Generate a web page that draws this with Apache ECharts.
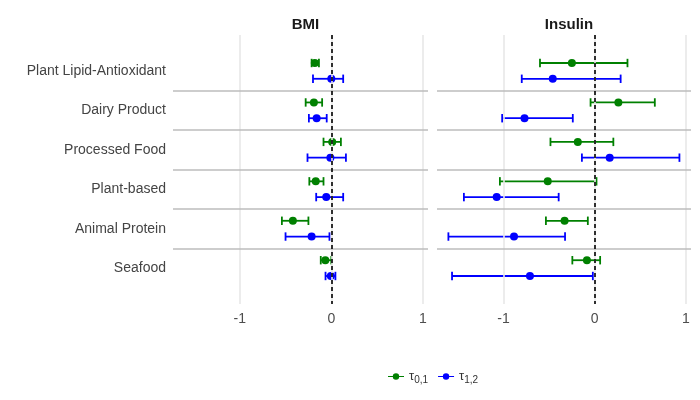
<!DOCTYPE html>
<html>
<head>
<meta charset="utf-8">
<script src="https://cdn.jsdelivr.net/npm/echarts@6/dist/echarts.min.js"></script>
<style>
html,body{margin:0;padding:0;background:#fff;}
#chart{width:700px;height:400px;}
</style>
</head>
<body>
<div id="chart"></div>
<script>
const categories = ["Plant Lipid-Antioxidant", "Dairy Product", "Processed Food", "Plant-based", "Animal Protein", "Seafood"];
const panels = ["BMI", "Insulin"];
const xTicks = [-1, 0, 1];

// BMI, tau 0,1 (green)
const bmiTau01Est = [-0.18, -0.19, 0.01, -0.17, -0.42, -0.065];
const bmiTau01Lo  = [-0.215, -0.28, -0.085, -0.24, -0.54, -0.115];
const bmiTau01Hi  = [-0.135, -0.10, 0.105, -0.085, -0.25, 0.0];
// BMI, tau 1,2 (blue)
const bmiTau12Est = [0.0, -0.16, -0.01, -0.055, -0.215, -0.005];
const bmiTau12Lo  = [-0.20, -0.245, -0.26, -0.165, -0.50, -0.063];
const bmiTau12Hi  = [0.13, -0.05, 0.16, 0.13, -0.02, 0.045];
// Insulin, tau 0,1 (green)
const insTau01Est = [-0.25, 0.26, -0.185, -0.515, -0.33, -0.085];
const insTau01Lo  = [-0.60, -0.045, -0.485, -1.04, -0.535, -0.245];
const insTau01Hi  = [0.36, 0.66, 0.205, 0.02, -0.075, 0.06];
// Insulin, tau 1,2 (blue)
const insTau12Est = [-0.46, -0.77, 0.165, -1.075, -0.885, -0.71];
const insTau12Lo  = [-0.80, -1.015, -0.14, -1.435, -1.605, -1.565];
const insTau12Hi  = [0.285, -0.24, 0.93, -0.395, -0.325, -0.02];

const seriesNames = ["t01", "t12"];
const colors = {t01: "#008000", t12: "#0000FF"};
const dodge = {t01: -0.2, t12: 0.2};

const FONT = "Liberation Sans, Arial, sans-serif";
const gridDefs = [
  {left: 173, top: 35, width: 255, height: 269},
  {left: 437, top: 35, width: 254, height: 269}
];

function errData(lo, hi, key) {
  return lo.map((l, i) => [l, hi[i], i + dodge[key]]);
}
function ptData(est, key) {
  return est.map((e, i) => [e, i + dodge[key]]);
}

function errSeries(idx, key, lo, hi) {
  return {
    type: "custom",
    name: key,
    xAxisIndex: idx, yAxisIndex: idx,
    z: 3,
    silent: true,
    itemStyle: {color: colors[key]},
    data: errData(lo, hi, key),
    encode: {x: [0, 1], y: 2},
    renderItem: function (params, api) {
      const y = api.value(2);
      const p1 = api.coord([api.value(0), y]);
      const p2 = api.coord([api.value(1), y]);
      const c = 4.2;
      const st = {stroke: colors[key], lineWidth: 1.8};
      return {
        type: "group",
        children: [
          {type: "line", shape: {x1: p1[0], y1: p1[1], x2: p2[0], y2: p2[1]}, style: st},
          {type: "line", shape: {x1: p1[0], y1: p1[1] - c, x2: p1[0], y2: p1[1] + c}, style: st},
          {type: "line", shape: {x1: p2[0], y1: p2[1] - c, x2: p2[0], y2: p2[1] + c}, style: st}
        ]
      };
    }
  };
}
function ptSeries(idx, key, est) {
  return {
    type: "scatter",
    name: key,
    xAxisIndex: idx, yAxisIndex: idx,
    z: 4,
    symbol: "circle",
    symbolSize: 8,
    itemStyle: {color: colors[key], opacity: 1},
    data: ptData(est, key)
  };
}
function bgSeries(idx) {
  const seps = categories.slice(0, -1).map((c, i) => ({yAxis: i + 0.5}));
  return [
    {
      type: "scatter", xAxisIndex: idx, yAxisIndex: idx, data: [], z: 1, silent: true,
      markLine: {
        silent: true, symbol: ["none", "none"], label: {show: false}, animation: false,
        lineStyle: {color: "#e8e8e8", width: 1.6, type: "solid"},
        emphasis: {disabled: true},
        data: xTicks.map(v => ({xAxis: v}))
      }
    },
    {
      type: "scatter", xAxisIndex: idx, yAxisIndex: idx, data: [], z: 2, silent: true,
      markLine: {
        silent: true, symbol: ["none", "none"], label: {show: false}, animation: false,
        lineStyle: {color: "#bdbdbd", width: 1.5, type: "solid"},
        emphasis: {disabled: true},
        data: seps
      }
    },
    {
      type: "scatter", xAxisIndex: idx, yAxisIndex: idx, data: [], z: 6, silent: true,
      markLine: {
        silent: true, symbol: ["none", "none"], label: {show: false}, animation: false,
        lineStyle: {color: "#000000", width: 1.6, type: [4, 3]},
        emphasis: {disabled: true},
        data: [{xAxis: 0}]
      }
    }
  ];
}

const legendIcon = "path://M0,4.25H20V5.75H0Z M14,5A4,4,0,1,1,6,5A4,4,0,1,1,14,5Z";

const option = {
  animation: false,
  backgroundColor: "#ffffff",
  title: panels.map((p, i) => ({
    text: p,
    left: gridDefs[i].left + gridDefs[i].width / 2,
    top: 12,
    textAlign: "center",
    textStyle: {fontFamily: FONT, fontSize: 15, fontWeight: "bold", color: "#1a1a1a"}
  })),
  grid: gridDefs.map(g => Object.assign({containLabel: false}, g)),
  xAxis: panels.map((p, i) => ({
    type: "value", gridIndex: i, min: -1.73, max: 1.057,
    axisLine: {show: false}, axisTick: {show: false}, splitLine: {show: false},
    axisLabel: {
      customValues: xTicks, margin: 8,
      fontFamily: FONT, fontSize: 14, color: "#4d4d4d",
      formatter: v => String(v)
    }
  })),
  yAxis: panels.map((p, i) => ({
    type: "value", gridIndex: i, inverse: true, min: -0.91, max: 5.91,
    axisLine: {show: false}, axisTick: {show: false}, splitLine: {show: false},
    axisLabel: {
      show: i === 0,
      customValues: categories.map((c, k) => k),
      margin: 7,
      padding: [4, 0, 0, 0],
      fontFamily: FONT, fontSize: 14, color: "#444444",
      formatter: v => categories[Math.round(v)]
    }
  })),
  legend: {
    left: 383, top: 365,
    itemWidth: 16, itemHeight: 8, itemGap: 10,
    selectedMode: false,
    data: seriesNames.map(n => ({name: n, icon: legendIcon, itemStyle: {color: colors[n]}})),
    formatter: n => n === "t01" ? "{t|τ}{s|0,1}" : "{t|τ}{s|1,2}",
    textStyle: {
      fontFamily: FONT, color: "#333",
      rich: {
        t: {fontFamily: FONT, fontSize: 13, color: "#333"},
        s: {fontFamily: FONT, fontSize: 10, color: "#333", verticalAlign: "bottom", padding: [7, 0, 0, 0]}
      }
    }
  },
  series: [
    ...bgSeries(0), ...bgSeries(1),
    errSeries(0, "t01", bmiTau01Lo, bmiTau01Hi),
    errSeries(0, "t12", bmiTau12Lo, bmiTau12Hi),
    errSeries(1, "t01", insTau01Lo, insTau01Hi),
    errSeries(1, "t12", insTau12Lo, insTau12Hi),
    ptSeries(0, "t01", bmiTau01Est),
    ptSeries(0, "t12", bmiTau12Est),
    ptSeries(1, "t01", insTau01Est),
    ptSeries(1, "t12", insTau12Est)
  ]
};

const chart = echarts.init(document.getElementById("chart"), null, {renderer: "canvas"});
chart.setOption(option);
</script>
</body>
</html>
